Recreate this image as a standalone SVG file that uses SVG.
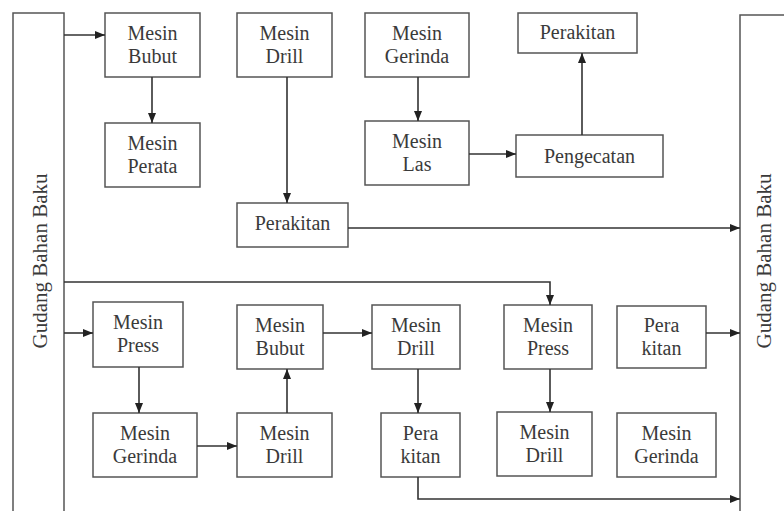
<svg xmlns="http://www.w3.org/2000/svg" width="784" height="511" viewBox="0 0 784 511">
<defs>
<marker id="ah" markerUnits="userSpaceOnUse" markerWidth="10" markerHeight="10" viewBox="0 0 10 10" refX="10" refY="5" orient="auto">
<path d="M0,1 L10,5 L0,9 Z" fill="#222"/>
</marker>
<style>
.box{fill:#fff;stroke:#555;stroke-width:1.5}
.t{font-family:'Liberation Serif','Times New Roman',serif;font-size:20px;fill:#3a3a3a;text-anchor:middle}
.v{font-size:21px}
.c{fill:none;stroke:#333;stroke-width:1.6}
.a{marker-end:url(#ah)}
</style>
</defs>
<rect width="784" height="511" fill="#fff"/>
<g id="gudang-kiri"><rect class="box" x="13" y="13" width="51" height="500"/><text class="t v" transform="translate(47,261) rotate(-90)">Gudang Bahan Baku</text></g>
<g id="gudang-kanan"><rect class="box" x="740" y="15" width="60" height="500"/><text class="t v" transform="translate(771,261) rotate(-90)">Gudang Bahan Baku</text></g>

<g id="bubut1"><rect class="box" x="105" y="13" width="95" height="64"/><text class="t" x="152.5" y="40">Mesin</text><text class="t" x="152.5" y="63">Bubut</text></g>
<g id="perata"><rect class="box" x="105" y="123" width="95" height="64"/><text class="t" x="152.5" y="150">Mesin</text><text class="t" x="152.5" y="173">Perata</text></g>
<g id="drill1"><rect class="box" x="237" y="13" width="95" height="64"/><text class="t" x="284.5" y="40">Mesin</text><text class="t" x="284.5" y="63">Drill</text></g>
<g id="perakitan1"><rect class="box" x="237" y="203" width="111" height="44"/><text class="t" x="292.5" y="230">Perakitan</text></g>
<g id="gerinda1"><rect class="box" x="365" y="13" width="104" height="64"/><text class="t" x="417" y="40">Mesin</text><text class="t" x="417" y="63">Gerinda</text></g>
<g id="las"><rect class="box" x="365" y="121" width="104" height="64"/><text class="t" x="417" y="148">Mesin</text><text class="t" x="417" y="171">Las</text></g>
<g id="pengecatan"><rect class="box" x="516" y="135" width="147" height="42"/><text class="t" x="589.5" y="163">Pengecatan</text></g>
<g id="perakitan2"><rect class="box" x="518" y="13" width="119" height="40"/><text class="t" x="577.5" y="39">Perakitan</text></g>

<g id="press1"><rect class="box" x="93" y="302" width="90" height="65"/><text class="t" x="138" y="329">Mesin</text><text class="t" x="138" y="352">Press</text></g>
<g id="gerinda2"><rect class="box" x="93" y="413" width="104" height="64"/><text class="t" x="145" y="440">Mesin</text><text class="t" x="145" y="463">Gerinda</text></g>
<g id="drill2"><rect class="box" x="237" y="413" width="95" height="64"/><text class="t" x="284.5" y="440">Mesin</text><text class="t" x="284.5" y="463">Drill</text></g>
<g id="bubut2"><rect class="box" x="237" y="305" width="86" height="64"/><text class="t" x="280" y="332">Mesin</text><text class="t" x="280" y="355">Bubut</text></g>
<g id="drill3"><rect class="box" x="372" y="305" width="88" height="64"/><text class="t" x="416" y="332">Mesin</text><text class="t" x="416" y="355">Drill</text></g>
<g id="perakitan3"><rect class="box" x="381" y="413" width="79" height="64"/><text class="t" x="420.5" y="440">Pera</text><text class="t" x="420.5" y="463">kitan</text></g>
<g id="press2"><rect class="box" x="504" y="305" width="88" height="64"/><text class="t" x="548" y="332">Mesin</text><text class="t" x="548" y="355">Press</text></g>
<g id="drill4"><rect class="box" x="497" y="412" width="95" height="64"/><text class="t" x="544.5" y="439">Mesin</text><text class="t" x="544.5" y="462">Drill</text></g>
<g id="perakitan4"><rect class="box" x="617" y="306" width="89" height="62"/><text class="t" x="661.5" y="332">Pera</text><text class="t" x="661.5" y="355">kitan</text></g>
<g id="gerinda3"><rect class="box" x="617" y="413" width="99" height="64"/><text class="t" x="666.5" y="440">Mesin</text><text class="t" x="666.5" y="463">Gerinda</text></g>

<g id="connectors">
<path class="c a" d="M64,35 H105"/>
<path class="c a" d="M152,77 V123"/>
<path class="c a" d="M287,77 V203"/>
<path class="c a" d="M348,228 H740"/>
<path class="c a" d="M418,77 V121"/>
<path class="c a" d="M469,154 H516"/>
<path class="c a" d="M582,135 V53"/>
<path class="c a" d="M64,282 H550 V305"/>
<path class="c a" d="M64,333 H93"/>
<path class="c a" d="M139,367 V413"/>
<path class="c a" d="M197,446 H237"/>
<path class="c a" d="M287,413 V369"/>
<path class="c a" d="M323,333 H372"/>
<path class="c a" d="M418,369 V413"/>
<path class="c a" d="M418,477 V499 H740"/>
<path class="c a" d="M550,369 V412"/>
<path class="c a" d="M706,333 H740"/>
</g>
</svg>
